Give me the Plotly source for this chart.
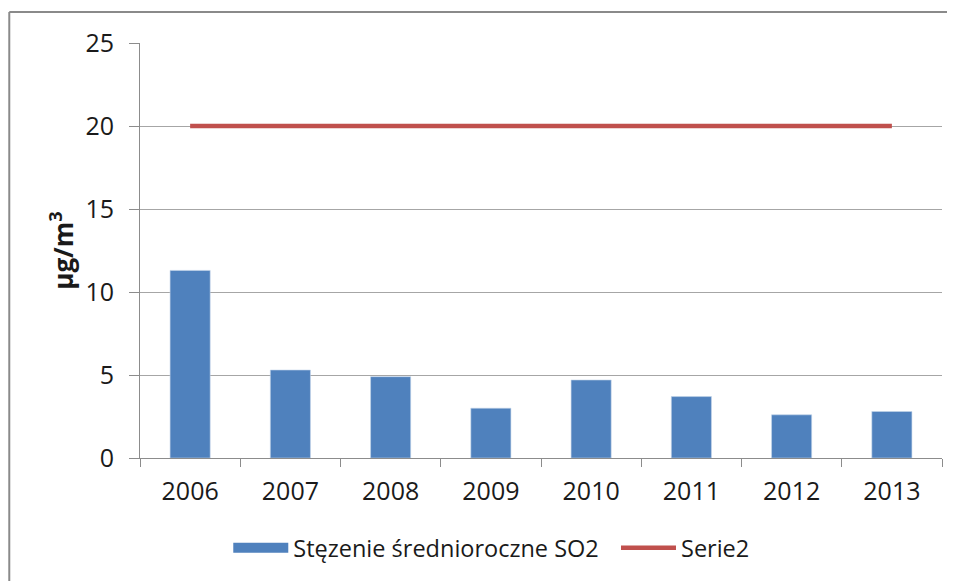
import plotly.graph_objects as go

# values
years = ["2006", "2007", "2008", "2009", "2010", "2011", "2012", "2013"]
so2_mean = [11.3, 5.3, 4.9, 3.0, 4.7, 3.7, 2.6, 2.8]
serie2 = [20, 20, 20, 20, 20, 20, 20, 20]

grey = "#8c8c8c"
font = "Open Sans"
bar_blue = "#4f81bd"

fig = go.Figure()
fig.add_trace(go.Bar(x=years, y=so2_mean, name="Stęzenie średnioroczne SO2",
                     legendgroup="so2", showlegend=False,
                     marker=dict(color=bar_blue, line=dict(color="#c5d5ea", width=0.6))))
# legend-only entry so the key looks like the wide block of the original
fig.add_trace(go.Scatter(x=[None], y=[None], mode="lines", name="Stęzenie średnioroczne SO2  ",
                         legendgroup="so2", line=dict(color=bar_blue, width=14)))
fig.add_trace(go.Scatter(x=years, y=serie2, mode="lines", name="Serie2",
                         line=dict(color="#c0504d", width=4.5)))

# page body has an 8px margin, so the figure is a bit smaller and the margins shifted
fig.update_layout(
    width=947, height=573,
    margin=dict(l=132, r=13, t=35, b=123, autoexpand=False),
    paper_bgcolor="white", plot_bgcolor="white",
    font=dict(family=font, color="#1a1a1a"),
    bargap=0.6,
    showlegend=True,
    legend=dict(orientation="h", x=0.438, xanchor="center", y=-0.217, yanchor="middle",
                font=dict(size=23.5, family=font), itemwidth=55, traceorder="normal"),
)

fig.update_xaxes(
    type="category", showline=True, linecolor=grey, linewidth=1,
    ticks="outside", tickson="boundaries", ticklen=8, tickcolor=grey,
    tickfont=dict(size=25), ticklabelstandoff=11, showgrid=False,
)
fig.update_yaxes(
    range=[0, 25], dtick=5, showline=True, linecolor=grey, linewidth=1,
    ticks="outside", ticklen=10, tickcolor=grey, tickfont=dict(size=25),
    ticklabelstandoff=10,
    showgrid=True, gridcolor="#a6a6a6", gridwidth=1, zeroline=False,
    title=dict(text="<b>µg/m<sup>3</sup></b>", font=dict(size=26), standoff=4),
)

# outer chart border (only left and top edges are inside the picture)
fig.add_shape(type="line", xref="paper", yref="paper", x0=-0.163, x1=-0.163, y0=1.0747, y1=-0.35,
              line=dict(color="#8a8a8a", width=2))
fig.add_shape(type="line", xref="paper", yref="paper", x0=-0.163, x1=1.03, y0=1.0747, y1=1.0747,
              line=dict(color="#8a8a8a", width=2))

fig.write_html("out.html")
